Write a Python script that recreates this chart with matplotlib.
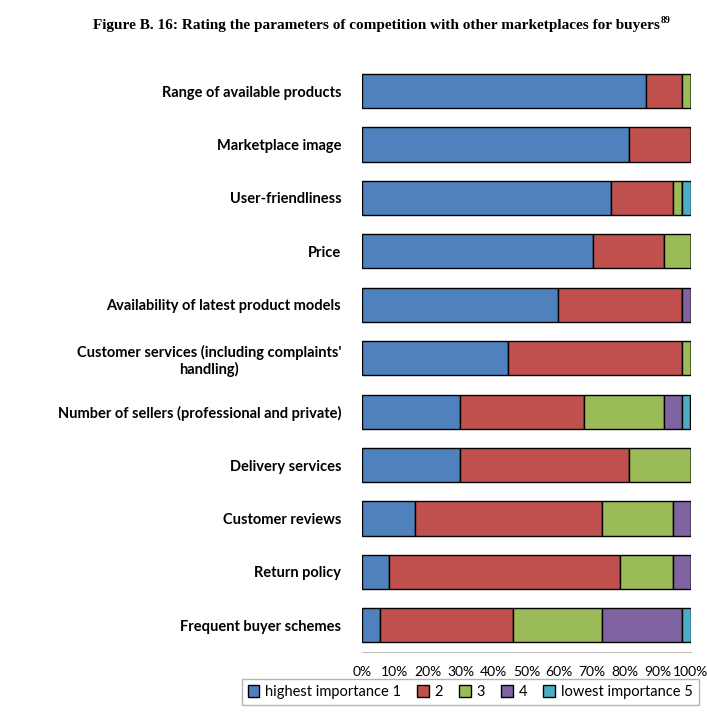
import matplotlib.pyplot as plt
import numpy as np

# categories, top to bottom
categories = [
    "Range of available products",
    "Marketplace image",
    "User-friendliness",
    "Price",
    "Availability of latest product models",
    "Customer services (including complaints'\nhandling)",
    "Number of sellers (professional and private)",
    "Delivery services",
    "Customer reviews",
    "Return policy",
    "Frequent buyer schemes",
]

series_names = ["highest importance 1", "2", "3", "4", "lowest importance 5"]

# shares in %, one list per rating
imp1 = [86.5, 81.1, 75.7, 70.3, 59.5, 44.4, 29.7, 29.7, 16.2, 8.1, 5.4]
imp2 = [10.8, 18.9, 18.9, 21.6, 37.8, 52.8, 37.8, 51.4, 56.8, 70.3, 40.5]
imp3 = [2.7, 0.0, 2.7, 8.1, 0.0, 2.8, 24.3, 18.9, 21.6, 16.2, 27.0]
imp4 = [0.0, 0.0, 0.0, 0.0, 2.7, 0.0, 5.4, 0.0, 5.4, 5.4, 24.4]
imp5 = [0.0, 0.0, 2.7, 0.0, 0.0, 0.0, 2.7, 0.0, 0.0, 0.0, 2.7]

colors = ["#4F81BD", "#C0504D", "#9BBB59", "#8064A2", "#4BACC6"]

fig = plt.figure(figsize=(7.07, 7.15), dpi=100)
ax = fig.add_axes([0.512, 0.088, 0.465, 0.822])

y = np.arange(len(categories))
left = np.zeros(len(categories))
for vals, name, col in zip([imp1, imp2, imp3, imp4, imp5], series_names, colors):
    vals = np.array(vals)
    ax.barh(y, vals, left=left, height=0.64, color=col, edgecolor="black",
            linewidth=1.0, label=name)
    left += vals

ax.set_ylim(len(categories) - 0.5, -0.5)
ax.set_xlim(0, 100)
ax.set_xticks(np.arange(0, 101, 10))
ax.set_xticklabels([f"{v}%" for v in range(0, 101, 10)], fontsize=10,
                   family="Lato")
ax.set_yticks(y)
ax.set_yticklabels(categories, fontsize=10.5, fontweight="bold", family="Lato",
                   multialignment="center")
ax.tick_params(axis="y", length=0, pad=15)
ax.tick_params(axis="x", length=0, pad=10)

for s in ["top", "right", "left"]:
    ax.spines[s].set_visible(False)
ax.spines["bottom"].set_color("#BFBFBF")

fig.text(0.5325, 0.965, "Figure B. 16: Rating the parameters of competition with other marketplaces for buyers",
         ha="center", va="center", fontsize=11, fontweight="bold",
         family="Liberation Serif")
fig.text(0.934, 0.972, "89", ha="left", va="center", fontsize=7,
         fontweight="bold", family="Liberation Serif")

leg = fig.legend(loc="center", bbox_to_anchor=(0.665, 0.032), ncol=5,
                 prop={"family": "Lato", "size": 10.5}, frameon=True,
                 fancybox=False, edgecolor="#A0A0A0",
                 handlelength=0.8, handleheight=0.8, handletextpad=0.4,
                 columnspacing=1.1, borderpad=0.4)
leg.get_frame().set_linewidth(1.0)
for h in leg.legend_handles:
    h.set_edgecolor("black")

fig.savefig("out.png", dpi=100)
